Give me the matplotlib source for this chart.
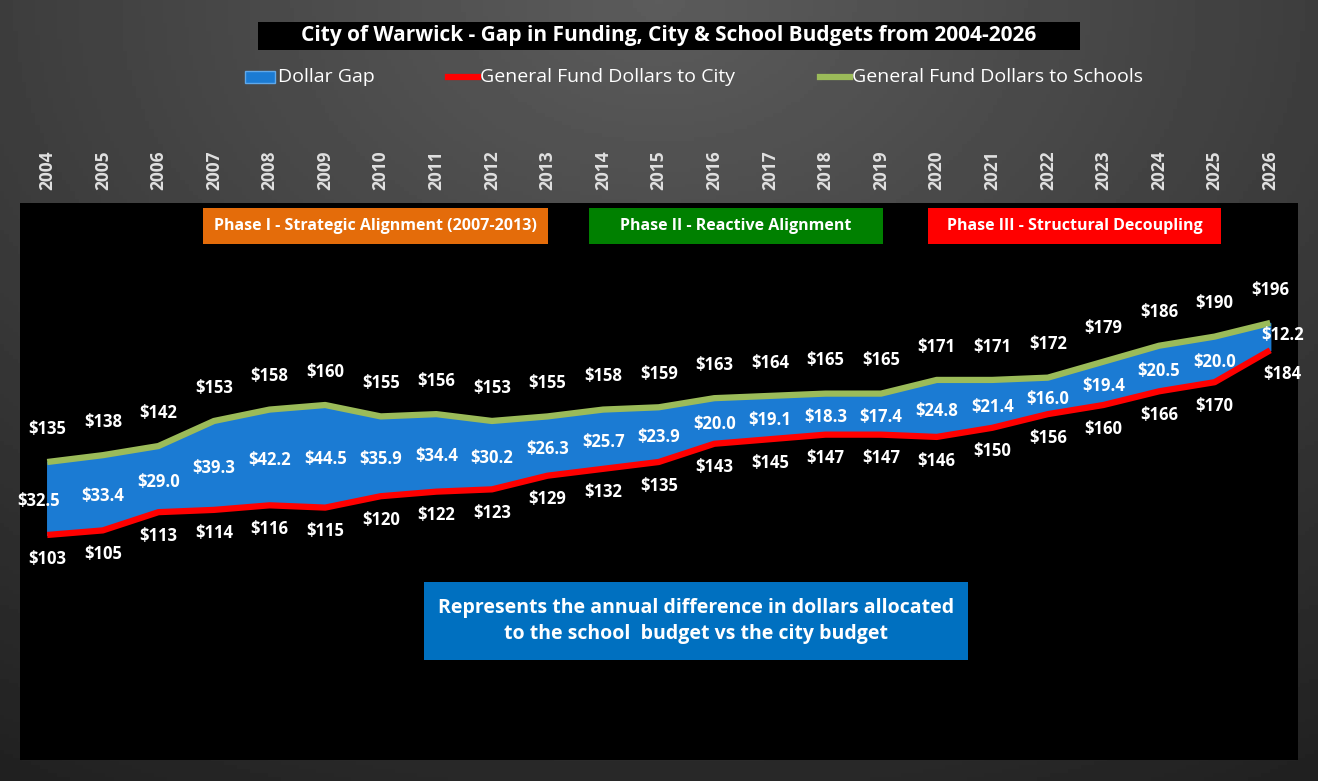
import matplotlib
matplotlib.use("Agg")
import matplotlib.pyplot as plt
import numpy as np
from matplotlib.patches import Rectangle
from matplotlib.lines import Line2D
import matplotlib.transforms as mtrans

plt.rcParams['font.family'] = ['Open Sans', 'DejaVu Sans']

years = list(range(2004, 2027))
schools = [135,138,142,153,158,160,155,156,153,155,158,159,163,164,165,165,171,171,172,179,186,190,196]
city = [103,105,113,114,116,115,120,122,123,129,132,135,143,145,147,147,146,150,156,160,166,170,184]
gap = [32.5,33.4,29.0,39.3,42.2,44.5,35.9,34.4,30.2,26.3,25.7,23.9,20.0,19.1,18.3,17.4,24.8,21.4,16.0,19.4,20.5,20.0,12.2]

W, H = 1318, 781
fig = plt.figure(figsize=(W/100, H/100), dpi=100)

# background gradient
bg = fig.add_axes([0, 0, 1, 1], zorder=-10)
yy, xx = np.mgrid[0:1:200j, 0:1:300j]
r = np.sqrt(((xx-0.5)*1.2)**2 + (yy*1.0)**2)
bg.imshow(0.36 - 0.2*r, cmap='gray', vmin=0, vmax=1, aspect='auto', extent=[0, 1, 1, 0])
bg.set_axis_off()

def px(x0, y0, x1, y1):
    return [x0/W, 1-y1/H, (x1-x0)/W, (y1-y0)/H]

ax = fig.add_axes(px(20, 203, 1298, 760))
ax.set_facecolor('black')
ax.set_xlim(2003.51, 2026.5)
ax.set_ylim(4.3, 248.6)
ax.set_xticks([]); ax.set_yticks([])
for s in ax.spines.values():
    s.set_visible(False)

ax.fill_between(years, city, schools, color='#1b7bd3', zorder=1)
ax.plot(years, schools, color='#9bbb59', lw=4.5, zorder=3, solid_capstyle='butt')
ax.plot(years, city, color='#ff0000', lw=4.5, zorder=3, solid_capstyle='butt')

lab = dict(color='white', fontsize=12, fontweight='bold', ha='center', va='center', zorder=5)
for i, y in enumerate(years):
    ax.annotate(f"${schools[i]}", (y, schools[i]), xytext=(0, 24), textcoords='offset points', **lab)
    if y == 2026:
        ax.annotate(f"${city[i]}", (y, city[i]), xytext=(9, -17), textcoords='offset points', **lab)
        ax.annotate(f"${gap[i]:.1f}", (y, (city[i]+schools[i])/2), xytext=(9, 1), textcoords='offset points', **lab)
    else:
        ax.annotate(f"${city[i]}", (y, city[i]), xytext=(0, -17), textcoords='offset points', **lab)
        xo = 6 if y == 2004 else 0
        ax.annotate(f"${gap[i]:.1f}", (y, (city[i]+schools[i])/2), xytext=(-xo, -2), textcoords='offset points', **lab)

# year labels
tr = mtrans.blended_transform_factory(ax.transData, ax.transAxes)
for y in years:
    ax.text(y, 1+33/557, str(y), transform=tr, rotation=90, color='#e0e0e0', fontsize=12.5,
            fontweight='bold', ha='center', va='center', clip_on=False)

# phase boxes and note box
def box(x0, y0, x1, y1, fc, text, fs=11.5):
    fig.patches.append(Rectangle((x0/W, 1-y1/H), (x1-x0)/W, (y1-y0)/H, transform=fig.transFigure,
                                 facecolor=fc, edgecolor='none', zorder=6))
    fig.text((x0+x1)/2/W, 1-(y0+y1)/2/H, text, color='white', fontsize=fs, fontweight='bold',
             ha='center', va='center', zorder=7, linespacing=1.4)

box(203, 208, 548, 244, '#e46c0a', 'Phase I - Strategic Alignment (2007-2013)')
box(589, 208, 883, 244, '#008000', 'Phase II - Reactive Alignment')
box(928, 208, 1221, 244, '#ff0000', 'Phase III - Structural Decoupling')
box(424, 582, 968, 660, '#0070c0', 'Represents the annual difference in dollars allocated\nto the school  budget vs the city budget', fs=14)
box(258, 22, 1080, 50, 'black', 'City of Warwick - Gap in Funding, City & School Budgets from 2004-2026', fs=15)

# legend
ly = 1-77/H
fig.patches.append(Rectangle((245/W, ly-6/H), 30/W, 12/H, transform=fig.transFigure,
                             facecolor='#1b7bd3', edgecolor='#5fa8ea', zorder=6))
fig.text(278/W, ly, 'Dollar Gap', color='white', fontsize=14, va='center', ha='left')
fig.lines.append(Line2D([448/W, 478/W], [ly, ly], transform=fig.transFigure, color='#ff0000', lw=4.5))
fig.text(480/W, ly, 'General Fund Dollars to City', color='white', fontsize=14, va='center', ha='left')
fig.lines.append(Line2D([820/W, 850/W], [ly, ly], transform=fig.transFigure, color='#9bbb59', lw=4.5))
fig.text(852/W, ly, 'General Fund Dollars to Schools', color='white', fontsize=14, va='center', ha='left')

fig.savefig('out.png', dpi=100)
